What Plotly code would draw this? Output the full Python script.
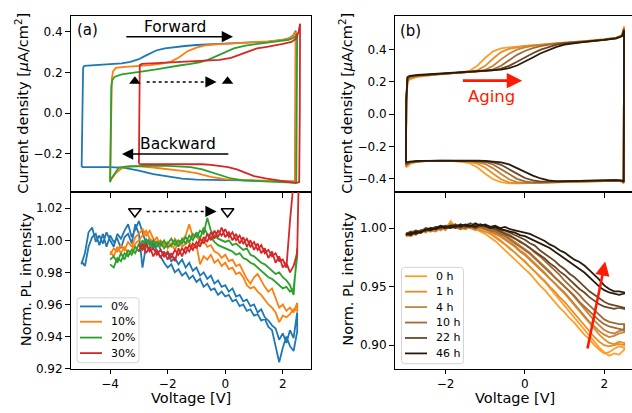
import plotly.graph_objects as go

FONT = "DejaVu Sans"

# ---------------- (a) cyclic voltammetry : forward / backward branches ----------------
cv_a_labels = ["0%", "10%", "20%", "30%"]
cv_a_colors = ["#1f77b4", "#ff7f0e", "#2ca02c", "#d62728"]

cv_a0_vf = [-4.99, -4.97, -4.94, -4.9, -4.7, -4.4, -4.0, -3.6, -3.3, -3.0, -2.8, -2.6, -2.4, -2.1, -1.8, -1.4, -1.0, -0.5, 0.0, 0.5, 1.0, 1.5, 2.0, 2.2, 2.35, 2.45]
cv_a0_jf = [-0.266, 0.12, 0.222, 0.232, 0.234, 0.236, 0.24, 0.245, 0.252, 0.265, 0.28, 0.296, 0.308, 0.318, 0.324, 0.33, 0.335, 0.338, 0.341, 0.344, 0.347, 0.352, 0.36, 0.367, 0.38, 0.405]
cv_a0_vb = [2.44, 2.42, 2.3, 2.0, 1.5, 1.0, 0.5, 0.0, -0.5, -1.0, -1.5, -2.0, -2.5, -3.0, -3.5, -4.0, -4.5, -4.99]
cv_a0_jb = [0.0, -0.335, -0.336, -0.335, -0.334, -0.333, -0.332, -0.331, -0.33, -0.328, -0.323, -0.313, -0.30, -0.283, -0.27, -0.266, -0.265, -0.266]

cv_a1_vf = [-4.0, -3.97, -3.94, -3.9, -3.8, -3.6, -3.3, -3.0, -2.6, -2.2, -1.9, -1.6, -1.3, -1.0, -0.7, -0.3, 0.0, 0.5, 1.0, 1.5, 2.0, 2.2, 2.35, 2.45]
cv_a1_jf = [-0.33, 0.05, 0.17, 0.205, 0.222, 0.226, 0.228, 0.231, 0.236, 0.243, 0.252, 0.275, 0.305, 0.322, 0.333, 0.338, 0.34, 0.344, 0.348, 0.353, 0.36, 0.366, 0.378, 0.40]
cv_a1_vb = [2.44, 2.42, 2.3, 2.0, 1.5, 1.0, 0.5, 0.0, -0.5, -1.0, -1.5, -2.0, -2.5, -3.0, -3.3, -3.6, -3.8, -3.9, -3.97, -4.0]
cv_a1_jb = [0.0, -0.337, -0.336, -0.334, -0.333, -0.332, -0.33, -0.325, -0.314, -0.296, -0.284, -0.275, -0.268, -0.262, -0.262, -0.272, -0.295, -0.315, -0.33, -0.333]

cv_a2_vf = [-4.0, -3.98, -3.96, -3.93, -3.85, -3.6, -3.2, -2.8, -2.4, -2.0, -1.6, -1.2, -0.9, -0.6, -0.3, 0.0, 0.3, 0.7, 1.1, 1.5, 1.9, 2.2, 2.35, 2.45, 2.5]
cv_a2_jf = [-0.34, 0.0, 0.13, 0.16, 0.178, 0.19, 0.197, 0.206, 0.215, 0.226, 0.234, 0.242, 0.25, 0.262, 0.28, 0.3, 0.318, 0.332, 0.34, 0.346, 0.353, 0.36, 0.368, 0.378, 0.39]
cv_a2_vb = [2.49, 2.47, 2.3, 2.0, 1.5, 1.0, 0.6, 0.2, -0.2, -0.5, -0.8, -1.2, -1.6, -2.0, -2.5, -3.0, -3.4, -3.7, -3.85, -3.93, -3.97, -4.0]
cv_a2_jb = [0.0, -0.34, -0.342, -0.34, -0.338, -0.335, -0.331, -0.322, -0.305, -0.29, -0.277, -0.266, -0.262, -0.26, -0.259, -0.26, -0.263, -0.268, -0.30, -0.315, -0.325, -0.34]

cv_a3_vf = [-3.0, -2.99, -2.97, -2.9, -2.5, -2.0, -1.5, -1.0, -0.6, -0.2, 0.2, 0.5, 0.8, 1.1, 1.4, 1.7, 2.0, 2.3, 2.45, 2.55, 2.6]
cv_a3_jf = [-0.25, 0.1, 0.236, 0.242, 0.245, 0.247, 0.25, 0.254, 0.256, 0.262, 0.272, 0.288, 0.305, 0.318, 0.325, 0.332, 0.34, 0.35, 0.365, 0.40, 0.44]
cv_a3_vb = [2.59, 2.57, 2.45, 2.2, 1.8, 1.4, 1.0, 0.7, 0.4, 0.1, -0.2, -0.5, -0.8, -1.2, -1.6, -2.0, -2.5, -2.9, -3.0]
cv_a3_jb = [0.0, -0.34, -0.345, -0.34, -0.333, -0.322, -0.31, -0.292, -0.277, -0.266, -0.259, -0.255, -0.252, -0.251, -0.251, -0.251, -0.251, -0.251, -0.25]

# ---------------- (a) normalised PL : two sweep branches each ----------------
pl_a_v = [-5.0, -4.875, -4.75, -4.625, -4.5, -4.375, -4.25, -4.125, -4.0, -3.875,
          -3.75, -3.625, -3.5, -3.375, -3.25, -3.125, -3.0, -2.875, -2.75, -2.625,
          -2.5, -2.375, -2.25, -2.125, -2.0, -1.875, -1.75, -1.625, -1.5, -1.375,
          -1.25, -1.125, -1.0, -0.875, -0.75, -0.625, -0.5, -0.375, -0.25, -0.125,
          0.0, 0.125, 0.25, 0.375, 0.5, 0.625, 0.75, 0.875, 1.0, 1.125,
          1.25, 1.375, 1.5, 1.625, 1.75, 1.875, 2.0, 2.125, 2.25, 2.375, 2.5]
pl_a_v_red_end = [2.6]

pl_a0_up = [0.985, 0.992, 1.005, 1.008, 0.999, 1.003, 0.998, 1.005, 1.000, 0.996,
            1.004, 1.001, 1.006, 1.010, 1.002, 1.007, 1.012, 1.005, 0.998, 1.001,
            0.996, 0.999, 0.994, 0.990, 0.992, 0.987, 0.989, 0.985, 0.988, 0.983,
            0.986, 0.981, 0.983, 0.978, 0.980, 0.976, 0.978, 0.973, 0.975, 0.971,
            0.972, 0.968, 0.970, 0.965, 0.966, 0.962, 0.963, 0.959, 0.960, 0.955,
            0.957, 0.952, 0.950, 0.947, 0.945, 0.938, 0.942, 0.936, 0.944, 0.939, 0.955]
pl_a0_lo = [0.987, 0.984, 0.996, 1.002, 1.004, 0.997, 1.004, 0.996, 1.003, 0.999,
            1.001, 0.995, 1.002, 1.004, 0.998, 1.010, 1.004, 0.983, 0.997, 0.994,
            0.999, 0.993, 0.990, 0.986, 0.983, 0.985, 0.980, 0.982, 0.978, 0.980,
            0.976, 0.978, 0.974, 0.976, 0.971, 0.973, 0.969, 0.970, 0.966, 0.968,
            0.965, 0.966, 0.962, 0.963, 0.959, 0.960, 0.956, 0.957, 0.953, 0.954,
            0.950, 0.951, 0.946, 0.944, 0.935, 0.924, 0.933, 0.940, 0.934, 0.931, 0.943]

pl_a1_up = [0.991, 0.995, 0.993, 0.997, 0.994, 0.999, 0.996, 1.002, 1.004, 1.007,
            1.003, 1.006, 1.001, 0.998, 1.000, 0.997, 0.999, 0.996, 1.001, 0.998,
            1.000, 1.003, 1.010, 1.002, 1.004, 0.998, 1.000, 0.996, 0.997, 0.993,
            0.992, 0.989, 0.991, 0.987, 0.988, 0.984, 0.985, 0.980, 0.976, 0.973,
            0.977, 0.979, 0.975, 0.971, 0.968, 0.970, 0.964, 0.958, 0.960, 0.956,
            0.958, 0.955, 0.961]
pl_a1_lo = [0.993, 0.990, 0.996, 0.992, 0.996, 0.991, 0.994, 0.998, 1.000, 1.003,
            1.006, 1.001, 0.999, 1.002, 0.996, 0.999, 0.995, 0.998, 0.994, 0.999,
            0.996, 0.998, 0.999, 0.995, 0.997, 0.985, 0.990, 0.988, 0.991, 0.986,
            0.988, 0.984, 0.986, 0.982, 0.983, 0.979, 0.980, 0.977, 0.972, 0.970,
            0.971, 0.968, 0.966, 0.963, 0.960, 0.958, 0.955, 0.949, 0.953, 0.952,
            0.954, 0.957, 0.956]

pl_a2_up = [0.985, 0.983, 0.989, 0.987, 0.992, 0.990, 0.994, 0.992, 0.998, 0.995,
            1.001, 0.997, 1.000, 0.996, 0.999, 0.995, 0.998, 1.001, 0.997, 1.000,
            0.998, 1.002, 0.999, 1.004, 1.002, 1.006, 1.004, 1.014, 1.006, 1.003,
            1.001, 1.000, 0.999, 1.000, 0.997, 0.998, 0.996, 0.994, 0.995, 0.991,
            0.990, 0.988, 0.986, 0.985, 0.983, 0.981, 0.979, 0.980, 0.977, 0.975,
            0.972, 0.966, 0.995]
pl_a2_lo = [0.988, 0.990, 0.986, 0.992, 0.988, 0.994, 0.991, 0.996, 0.993, 1.000,
            0.996, 0.999, 0.995, 0.999, 0.997, 1.000, 0.996, 0.997, 1.000, 0.996,
            1.001, 0.998, 1.003, 1.000, 1.005, 1.001, 1.008, 1.004, 1.002, 0.999,
            0.997, 0.996, 0.995, 0.994, 0.993, 0.991, 0.992, 0.989, 0.988, 0.986,
            0.985, 0.983, 0.981, 0.979, 0.977, 0.976, 0.974, 0.972, 0.970, 0.971,
            0.968, 0.970, 0.990]

pl_a3_up = [0.997, 0.994, 0.998, 0.993, 0.995, 0.991, 0.994, 0.990, 0.993, 0.989,
            0.994, 0.991, 0.995, 0.992, 0.997, 0.994, 0.999, 0.996, 1.002, 0.999,
            1.005, 1.001, 1.006, 1.003, 1.007, 1.002, 1.005, 1.000, 1.003, 0.998,
            1.001, 0.996, 0.999, 0.994, 0.997, 0.992, 0.994, 0.990, 0.992, 0.987,
            0.988, 0.983, 1.012, 1.040, 1.060, 1.080]
pl_a3_lo = [0.993, 0.998, 0.992, 0.996, 0.990, 0.994, 0.989, 0.993, 0.988, 0.992,
            0.987, 0.995, 0.990, 0.996, 0.993, 0.998, 0.995, 1.001, 0.998, 1.004,
            1.000, 1.006, 1.002, 1.008, 1.002, 1.005, 1.000, 1.004, 0.998, 1.002,
            0.996, 1.000, 0.994, 0.998, 0.992, 0.995, 0.989, 0.993, 0.986, 0.990,
            0.983, 0.986, 0.980, 0.984, 0.992, 1.080]

# ---------------- (b) cyclic voltammetry during aging ----------------
age_labels = ["0 h", "1 h", "4 h", "10 h", "22 h", "46 h"]
age_colors = ["#ff9f2a", "#e58f2c", "#c98238", "#a06b34", "#6b4726", "#2a1a0b"]

cv_b_vf = [-3.0, -2.99, -2.96, -2.9, -2.7, -2.4, -2.1, -1.8, -1.6, -1.4, -1.2, -1.0, -0.8, -0.6,
           -0.4, -0.2, 0.0, 0.2, 0.4, 0.6, 0.8, 1.0, 1.3, 1.6, 2.0, 2.3, 2.45, 2.5]
cv_b_vb = [2.49, 2.45, 2.3, 2.0, 1.6, 1.3, 1.0, 0.8, 0.6, 0.4, 0.2, 0.0, -0.2, -0.4,
           -0.6, -0.8, -1.0, -1.2, -1.4, -1.6, -1.8, -2.1, -2.4, -2.7, -2.9, -2.96, -2.99]

cv_b0_jf = [-0.33, 0.05, 0.20, 0.215, 0.232, 0.242, 0.25, 0.255, 0.26, 0.268, 0.30, 0.35, 0.39, 0.408,
            0.415, 0.42, 0.425, 0.428, 0.432, 0.436, 0.44, 0.443, 0.448, 0.455, 0.465, 0.475, 0.49, 0.545]
cv_b1_jf = [-0.325, 0.06, 0.21, 0.222, 0.235, 0.243, 0.25, 0.255, 0.258, 0.262, 0.272, 0.30, 0.345, 0.385,
            0.405, 0.416, 0.423, 0.427, 0.431, 0.435, 0.439, 0.442, 0.447, 0.454, 0.464, 0.474, 0.488, 0.54]
cv_b2_jf = [-0.318, 0.07, 0.215, 0.228, 0.237, 0.244, 0.25, 0.255, 0.258, 0.261, 0.265, 0.275, 0.30, 0.34,
            0.375, 0.40, 0.415, 0.424, 0.43, 0.434, 0.438, 0.441, 0.446, 0.453, 0.463, 0.473, 0.487, 0.535]
cv_b3_jf = [-0.312, 0.08, 0.22, 0.232, 0.239, 0.245, 0.251, 0.256, 0.259, 0.262, 0.265, 0.268, 0.278, 0.30,
            0.335, 0.368, 0.392, 0.41, 0.422, 0.432, 0.437, 0.44, 0.445, 0.452, 0.462, 0.472, 0.486, 0.53]
cv_b4_jf = [-0.305, 0.09, 0.225, 0.235, 0.241, 0.246, 0.252, 0.257, 0.26, 0.263, 0.266, 0.269, 0.272, 0.282,
            0.30, 0.325, 0.352, 0.378, 0.40, 0.418, 0.432, 0.44, 0.444, 0.451, 0.461, 0.471, 0.485, 0.525]
cv_b5_jf = [-0.30, 0.10, 0.23, 0.238, 0.243, 0.247, 0.253, 0.258, 0.261, 0.264, 0.267, 0.27, 0.273, 0.276,
            0.285, 0.302, 0.325, 0.352, 0.378, 0.40, 0.418, 0.432, 0.443, 0.452, 0.461, 0.47, 0.484, 0.52]

cv_b0_jb = [-0.43, -0.42, -0.415, -0.417, -0.42, -0.422, -0.424, -0.425, -0.427, -0.428, -0.43, -0.431, -0.432, -0.43,
            -0.423, -0.405, -0.37, -0.33, -0.305, -0.296, -0.292, -0.29, -0.29, -0.295, -0.31, -0.325, -0.33]
cv_b1_jb = [-0.428, -0.418, -0.414, -0.416, -0.419, -0.421, -0.423, -0.424, -0.426, -0.427, -0.429, -0.43, -0.43, -0.424,
            -0.405, -0.37, -0.333, -0.308, -0.297, -0.293, -0.291, -0.29, -0.29, -0.294, -0.305, -0.318, -0.325]
cv_b2_jb = [-0.426, -0.416, -0.413, -0.415, -0.418, -0.42, -0.422, -0.423, -0.425, -0.426, -0.428, -0.428, -0.422, -0.405,
            -0.372, -0.337, -0.31, -0.298, -0.293, -0.291, -0.29, -0.289, -0.29, -0.293, -0.302, -0.313, -0.318]
cv_b3_jb = [-0.424, -0.415, -0.412, -0.414, -0.417, -0.419, -0.421, -0.422, -0.424, -0.425, -0.425, -0.418, -0.402, -0.372,
            -0.34, -0.313, -0.299, -0.293, -0.291, -0.29, -0.29, -0.289, -0.29, -0.292, -0.30, -0.31, -0.314]
cv_b4_jb = [-0.422, -0.414, -0.411, -0.413, -0.416, -0.418, -0.42, -0.421, -0.422, -0.42, -0.412, -0.397, -0.37, -0.34,
            -0.315, -0.30, -0.293, -0.291, -0.29, -0.29, -0.289, -0.289, -0.29, -0.292, -0.298, -0.306, -0.31]
cv_b5_jb = [-0.42, -0.413, -0.41, -0.412, -0.415, -0.417, -0.418, -0.418, -0.412, -0.40, -0.382, -0.358, -0.333, -0.312,
            -0.30, -0.293, -0.29, -0.289, -0.289, -0.289, -0.289, -0.289, -0.29, -0.291, -0.295, -0.30, -0.303]

# ---------------- (b) normalised PL during aging ----------------
pl_b_v = [-3.0, -2.875, -2.75, -2.625, -2.5, -2.375, -2.25, -2.125, -2.0, -1.875,
          -1.75, -1.625, -1.5, -1.375, -1.25, -1.125, -1.0, -0.875, -0.75, -0.625,
          -0.5, -0.375, -0.25, -0.125, 0.0, 0.125, 0.25, 0.375, 0.5, 0.625,
          0.75, 0.875, 1.0, 1.125, 1.25, 1.375, 1.5, 1.625, 1.75, 1.875,
          2.0, 2.125, 2.25, 2.375, 2.5]

pl_b0_f = [.993, .996, .995, .998, .996, .999, .998, 1.000, .998, 1.006,
           1.001, .999, 1.002, 1.000, .998, .999, .997, .996, .993, .990,
           .986, .983, .979, .975, .972, .967, .963, .958, .954, .949,
           .944, .939, .934, .929, .923, .918, .913, .908, .903, .898,
           .894, .891, .893, .892, .896]
pl_b0_b = [.995, .994, .997, .996, .998, .997, 1.000, .999, 1.001, 1.000,
           1.002, 1.000, .999, 1.001, .999, .997, .995, .992, .989, .985,
           .981, .977, .973, .969, .965, .961, .956, .951, .947, .942,
           .937, .932, .928, .923, .919, .914, .909, .905, .900, .896,
           .893, .894, .897, .899, .898]
pl_b1_f = [.994, .993, .996, .998, .997, .999, 1.000, .998, 1.001, 1.004,
           1.001, 1.000, 1.002, 1.001, .999, 1.000, .999, .998, .996, .994,
           .991, .988, .985, .981, .978, .974, .970, .966, .962, .957,
           .953, .948, .944, .939, .934, .929, .924, .919, .914, .909,
           .905, .902, .901, .903, .902]
pl_b1_b = [.996, .995, .997, .996, .999, .998, 1.001, 1.000, .999, 1.002,
           1.000, 1.001, .999, 1.002, 1.000, .998, .997, .995, .992, .989,
           .986, .982, .979, .975, .971, .967, .963, .959, .955, .950,
           .946, .941, .937, .932, .927, .922, .917, .912, .907, .903,
           .900, .899, .900, .901, .900]
pl_b2_f = [.995, .996, .994, .997, .998, .997, 1.000, .999, 1.001, 1.002,
           1.000, 1.003, 1.001, 1.000, 1.002, 1.001, 1.000, .999, .998, .996,
           .994, .991, .988, .985, .982, .979, .975, .971, .967, .963,
           .958, .954, .950, .946, .941, .936, .931, .926, .921, .917,
           .913, .911, .910, .912, .913]
pl_b2_b = [.993, .995, .997, .996, .999, .998, .997, 1.000, .999, 1.001,
           1.003, 1.000, 1.002, 1.000, .999, 1.001, .999, .997, .995, .993,
           .990, .987, .984, .980, .977, .973, .969, .965, .961, .957,
           .953, .949, .945, .940, .935, .930, .925, .920, .916, .912,
           .909, .907, .908, .910, .911]
pl_b3_f = [.994, .996, .995, .998, .997, 1.000, .999, 1.001, 1.000, 1.002,
           1.001, .999, 1.002, 1.001, 1.003, 1.001, 1.002, 1.000, .999, .998,
           .996, .994, .991, .989, .986, .983, .979, .976, .972, .968,
           .964, .960, .955, .951, .947, .943, .938, .934, .930, .926,
           .922, .920, .919, .918, .918]
pl_b3_b = [.995, .994, .997, .996, .999, .998, 1.001, .999, 1.002, 1.000,
           1.003, 1.001, 1.000, 1.002, 1.000, 1.001, .999, .998, .997, .995,
           .993, .990, .987, .984, .981, .978, .974, .970, .966, .962,
           .958, .954, .950, .946, .942, .937, .933, .929, .925, .921,
           .918, .916, .915, .914, .913]
pl_b4_f = [.995, .997, .996, .998, .999, .998, 1.000, 1.001, 1.000, 1.002,
           1.003, 1.001, 1.002, 1.004, 1.002, 1.003, 1.002, 1.001, 1.000, .999,
           .998, .996, .994, .992, .990, .987, .985, .981, .978, .975,
           .972, .968, .965, .961, .958, .954, .950, .946, .943, .940,
           .937, .935, .934, .933, .932]
pl_b4_b = [.994, .996, .998, .997, 1.000, .999, 1.001, 1.000, 1.002, 1.001,
           1.000, 1.003, 1.001, 1.002, 1.000, 1.002, 1.001, 1.000, .999, .997,
           .995, .993, .991, .988, .986, .983, .980, .977, .974, .970,
           .967, .963, .960, .956, .952, .948, .945, .941, .938, .935,
           .933, .932, .931, .932, .931]
pl_b5_f = [.994, .996, .995, .997, .998, 1.000, .999, 1.001, 1.000, 1.002,
           1.001, 1.003, 1.002, 1.001, 1.004, 1.002, 1.003, 1.001, 1.002, 1.000,
           1.001, .999, .998, .997, .996, .995, .993, .991, .989, .986,
           .984, .981, .979, .976, .973, .971, .968, .964, .960, .956,
           .951, .948, .946, .946, .945]
pl_b5_b = [.995, .994, .997, .996, .999, .998, 1.000, 1.002, 1.001, 1.000,
           1.002, 1.001, 1.003, 1.002, 1.001, 1.003, 1.002, 1.000, 1.001, .999,
           .998, .997, .996, .994, .993, .991, .989, .987, .985, .983,
           .980, .977, .974, .971, .968, .965, .962, .958, .954, .950,
           .947, .945, .944, .943, .944]

# ---------------- figure ----------------
fig = go.Figure()

cv_a = [(cv_a0_vf, cv_a0_jf, cv_a0_vb, cv_a0_jb),
        (cv_a1_vf, cv_a1_jf, cv_a1_vb, cv_a1_jb),
        (cv_a2_vf, cv_a2_jf, cv_a2_vb, cv_a2_jb),
        (cv_a3_vf, cv_a3_jf, cv_a3_vb, cv_a3_jb)]
for (vf, jf, vb, jb), col, lab in zip(cv_a, cv_a_colors, cv_a_labels):
    fig.add_trace(go.Scatter(x=vf + vb + vf[:1], y=jf + jb + jf[:1], mode="lines",
                             line=dict(color=col, width=1.8), name=lab,
                             xaxis="x", yaxis="y", showlegend=False, hoverinfo="skip"))

pl_a = [(pl_a_v, pl_a0_up, pl_a0_lo),
        (pl_a_v[8:], pl_a1_up, pl_a1_lo),
        (pl_a_v[8:], pl_a2_up, pl_a2_lo),
        (pl_a_v[16:] + pl_a_v_red_end, pl_a3_up, pl_a3_lo)]
for (v, up, lo), col, lab in zip(pl_a, cv_a_colors, cv_a_labels):
    fig.add_trace(go.Scatter(x=v + v[::-1], y=up + lo[::-1], mode="lines",
                             line=dict(color=col, width=1.8), name=lab,
                             xaxis="x3", yaxis="y3", showlegend=False, hoverinfo="skip"))

cv_b_f = [cv_b0_jf, cv_b1_jf, cv_b2_jf, cv_b3_jf, cv_b4_jf, cv_b5_jf]
cv_b_b = [cv_b0_jb, cv_b1_jb, cv_b2_jb, cv_b3_jb, cv_b4_jb, cv_b5_jb]
for jf, jb, col, lab in zip(cv_b_f, cv_b_b, age_colors, age_labels):
    fig.add_trace(go.Scatter(x=cv_b_vf + cv_b_vb + cv_b_vf[:1], y=jf + jb + jf[:1], mode="lines",
                             line=dict(color=col, width=1.8), name=lab,
                             xaxis="x2", yaxis="y2", showlegend=False, hoverinfo="skip"))

pl_b_f = [pl_b0_f, pl_b1_f, pl_b2_f, pl_b3_f, pl_b4_f, pl_b5_f]
pl_b_b = [pl_b0_b, pl_b1_b, pl_b2_b, pl_b3_b, pl_b4_b, pl_b5_b]
for pf, pb, col, lab in zip(pl_b_f, pl_b_b, age_colors, age_labels):
    fig.add_trace(go.Scatter(x=pl_b_v + pl_b_v[::-1], y=pf + pb[::-1], mode="lines",
                             line=dict(color=col, width=1.8), name=lab,
                             xaxis="x4", yaxis="y4", showlegend=False, hoverinfo="skip"))

# marker triangles (a)
tri_v = [-3.14, 0.08]
fig.add_trace(go.Scatter(x=tri_v, y=[0.156, 0.156], mode="markers",
                         marker=dict(symbol="triangle-up", size=10, color="black"),
                         xaxis="x", yaxis="y", showlegend=False, hoverinfo="skip"))
fig.add_trace(go.Scatter(x=tri_v, y=[1.018, 1.018], mode="markers",
                         marker=dict(symbol="triangle-down-open", size=11, color="black",
                                     line=dict(width=1.5, color="black")),
                         xaxis="x3", yaxis="y3", showlegend=False, hoverinfo="skip"))

# ---------------- layout ----------------
W, H = 632, 413
def px(x):
    return x / W
def py(y):
    return 1 - y / H

xa_dom = [px(71), px(311)]
xb_dom = [px(395), 1.0]
top_dom = [py(195), py(16)]
bot_dom = [py(375), py(195)]

tickfont = dict(family=FONT, size=12, color="black")
common = dict(showline=True, linecolor="black", linewidth=1, ticks="outside",
              tickwidth=1, tickcolor="black", showgrid=False, zeroline=False, tickfont=tickfont)

fig.update_layout(
    width=W, height=H, margin=dict(l=0, r=0, t=0, b=0),
    paper_bgcolor="white", plot_bgcolor="white", hovermode=False, showlegend=False,
    font=dict(family=FONT, color="black"),
    xaxis=dict(domain=xa_dom, anchor="y", range=[-5.36, 2.98], tickvals=[-4, -2, 0, 2],
               showticklabels=False, mirror=True, ticklen=5, **common),
    yaxis=dict(domain=top_dom, anchor="x", range=[-0.387, 0.479], tickvals=[-0.2, 0.0, 0.2, 0.4],
               tickformat=".1f", mirror=True, ticklen=5, **common),
    xaxis3=dict(domain=xa_dom, anchor="y3", range=[-5.36, 2.98], tickvals=[-4, -2, 0, 2],
                mirror=True, ticklen=4, **common),
    yaxis3=dict(domain=bot_dom, anchor="x3", range=[0.92, 1.0303],
                tickvals=[0.92, 0.94, 0.96, 0.98, 1.00, 1.02], tickformat=".2f", mirror=True,
                ticklen=5, **common),
    xaxis2=dict(domain=xb_dom, anchor="y2", range=[-3.275, 2.70], tickvals=[-2, 0, 2],
                showticklabels=False, mirror=True, ticklen=5, **common),
    yaxis2=dict(domain=top_dom, anchor="x2", range=[-0.482, 0.611], tickvals=[-0.4, -0.2, 0.0, 0.2, 0.4],
                tickformat=".1f", mirror=False, ticklen=5, **common),
    xaxis4=dict(domain=xb_dom, anchor="y4", range=[-3.275, 2.70], tickvals=[-2, 0, 2],
                mirror=True, ticklen=4, **common),
    yaxis4=dict(domain=bot_dom, anchor="x4", range=[0.880, 1.031], tickvals=[0.90, 0.95, 1.00],
                tickformat=".2f", mirror=False, ticklen=5, **common),
)

lab_font = dict(family=FONT, size=14.5, color="black")
ann = [
    dict(text="Current density [<i>μ</i>A/cm<sup>2</sup>]", x=px(22), y=py(105.5), xref="paper", yref="paper",
         textangle=-90, showarrow=False, font=lab_font, xanchor="center", yanchor="middle"),
    dict(text="Norm. PL intensity", x=px(25.5), y=py(284.5), xref="paper", yref="paper",
         textangle=-90, showarrow=False, font=lab_font, xanchor="center", yanchor="middle"),
    dict(text="Current density [<i>μ</i>A/cm<sup>2</sup>]", x=px(346), y=py(105.5), xref="paper", yref="paper",
         textangle=-90, showarrow=False, font=lab_font, xanchor="center", yanchor="middle"),
    dict(text="Norm. PL intensity", x=px(348), y=py(284.5), xref="paper", yref="paper",
         textangle=-90, showarrow=False, font=lab_font, xanchor="center", yanchor="middle"),
    dict(text="Voltage [V]", x=px(191), y=py(405), xref="paper", yref="paper",
         showarrow=False, font=lab_font, xanchor="center", yanchor="middle", borderpad=0),
    dict(text="Voltage [V]", x=px(514.5), y=py(405), xref="paper", yref="paper",
         showarrow=False, font=lab_font, xanchor="center", yanchor="middle", borderpad=0),
    dict(text="(a)", x=px(87), y=py(31), xref="paper", yref="paper", showarrow=False,
         font=dict(family=FONT, size=15, color="black"), xanchor="center", yanchor="middle"),
    dict(text="(b)", x=px(410), y=py(31.5), xref="paper", yref="paper", showarrow=False,
         font=dict(family=FONT, size=15, color="black"), xanchor="center", yanchor="middle"),
    # Forward / Backward
    dict(text="Forward", x=-1.75, y=0.423, xref="x", yref="y", showarrow=False,
         font=dict(family=FONT, size=15.5, color="black")),
    dict(text="", x=0.27, y=0.376, ax=-3.49, ay=0.376, xref="x", yref="y", axref="x", ayref="y",
         showarrow=True, arrowhead=2, arrowsize=1.5, arrowwidth=1.5, arrowcolor="black", standoff=0),
    dict(text="Backward", x=-1.64, y=-0.153, xref="x", yref="y", showarrow=False,
         font=dict(family=FONT, size=15.5, color="black")),
    dict(text="", x=-3.59, y=-0.202, ax=0.16, ay=-0.202, xref="x", yref="y", axref="x", ayref="y",
         showarrow=True, arrowhead=2, arrowsize=1.5, arrowwidth=1.5, arrowcolor="black", standoff=0),
    # dotted arrow heads
    dict(text="", x=-0.30, y=0.153, ax=-8, ay=0, xref="x", yref="y",
         showarrow=True, arrowhead=2, arrowsize=1.5, arrowwidth=1.5, arrowcolor="black", standoff=0),
    dict(text="", x=-0.30, y=1.018, ax=-8, ay=0, xref="x3", yref="y3",
         showarrow=True, arrowhead=2, arrowsize=1.5, arrowwidth=1.5, arrowcolor="black", standoff=0),
    # Aging
    dict(text="Aging", x=-0.835, y=0.108, xref="x2", yref="y2", showarrow=False,
         font=dict(family=FONT, size=16.5, color="#ff1a00")),
    dict(text="", x=-0.07, y=0.2076, ax=-1.60, ay=0.2076, xref="x2", yref="y2", axref="x2", ayref="y2",
         showarrow=True, arrowhead=2, arrowsize=1.1, arrowwidth=2.8, arrowcolor="#ff1a00", standoff=0),
    dict(text="", x=2.025, y=0.9715, ax=1.57, ay=0.896, xref="x4", yref="y4", axref="x4", ayref="y4",
         showarrow=True, arrowhead=2, arrowsize=1.1, arrowwidth=2.6, arrowcolor="#ff1a00", standoff=0),
]

shapes = [
    dict(type="line", x0=-2.73, x1=-0.45, y0=0.153, y1=0.153, xref="x", yref="y",
         line=dict(color="black", width=1.5, dash="dot")),
    dict(type="line", x0=-2.73, x1=-0.45, y0=1.018, y1=1.018, xref="x3", yref="y3",
         line=dict(color="black", width=1.5, dash="dot")),
]

# legend boxes (matplotlib style: rounded frame, short line samples)
def rounded_box(x0, y0, x1, y1, r=3):
    X0, X1 = px(x0), px(x1)
    Y0, Y1 = py(y0), py(y1)
    rx, ry = r / W, r / H
    return (f"M {X0+rx},{Y0} L {X1-rx},{Y0} Q {X1},{Y0} {X1},{Y0-ry} "
            f"L {X1},{Y1+ry} Q {X1},{Y1} {X1-rx},{Y1} L {X0+rx},{Y1} "
            f"Q {X0},{Y1} {X0},{Y1+ry} L {X0},{Y0-ry} Q {X0},{Y0} {X0+rx},{Y0} Z")

def add_legend(box, line_x, text_x, rows, labels, colors):
    shapes.append(dict(type="path", path=rounded_box(*box), xref="paper", yref="paper",
                       line=dict(color="#d4d4d4", width=1), fillcolor="rgba(255,255,255,0.8)",
                       layer="above"))
    for yrow, lab, col in zip(rows, labels, colors):
        shapes.append(dict(type="line", x0=px(line_x[0]), x1=px(line_x[1]), y0=py(yrow), y1=py(yrow),
                           xref="paper", yref="paper", line=dict(color=col, width=1.8), layer="above"))
        ann.append(dict(text=lab, x=px(text_x), y=py(yrow), xref="paper", yref="paper",
                        showarrow=False, xanchor="left", yanchor="middle",
                        font=dict(family=FONT, size=11, color="black")))

add_legend((77, 303, 139, 369), (80, 102), 109, [311.7, 327.3, 343.4, 359.2], cv_a_labels, cv_a_colors)
add_legend((401.5, 272, 463.5, 370), (405, 427), 434, [281, 296.7, 312.4, 328.1, 343.8, 359.5],
           age_labels, age_colors)

fig.update_layout(annotations=ann, shapes=shapes)

fig.write_html(
    "out.html",
    config={"displayModeBar": False, "responsive": False},
    post_script=("document.documentElement.style.margin='0px';"
                 "document.body.style.margin='0px';"
                 "document.body.style.overflow='hidden';"
                 "document.documentElement.style.overflow='hidden';"),
)
